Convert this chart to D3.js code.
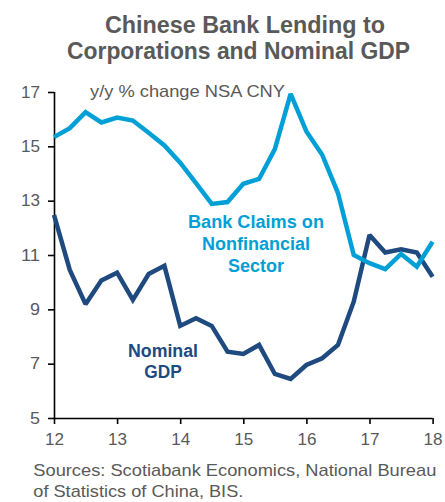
<!DOCTYPE html>
<html>
<head>
<meta charset="utf-8">
<script src="https://cdn.jsdelivr.net/npm/d3@7"></script>
<style>
  html, body { margin: 0; padding: 0; background: #fff; }
  svg { display: block; font-family: "Liberation Sans", Arial, sans-serif; }
</style>
</head>
<body>
<svg id="chart" width="445" height="502"></svg>
<script>
// Quarterly observations, 2012Q1 .. 2018Q1 (x in fractional years, 12 = 2012)
const quarters = d3.range(0, 25).map(i => 12 + i * 0.25);

// Bank claims on nonfinancial sector, y/y %
const bankClaims = [15.34, 15.67, 16.26, 15.88, 16.06, 15.95, 15.5, 15.03, 14.4, 13.65,
  12.88, 12.95, 13.62, 13.8, 14.9, 16.93, 15.55, 14.69, 13.28, 11.0,
  10.7, 10.48, 11.04, 10.57, 11.49];

// Nominal GDP, y/y %
const nominalGDP = [12.48, 10.45, 9.19, 10.06, 10.35, 9.35, 10.3, 10.6, 8.39, 8.67,
  8.39, 7.44, 7.36, 7.69, 6.62, 6.44, 6.95, 7.2, 7.69, 9.28,
  11.74, 11.09, 11.21, 11.09, 10.2];

const xTicks = [12, 13, 14, 15, 16, 17, 18];
const yTicks = [5, 7, 9, 11, 13, 15, 17];

const titleLines = ["Chinese Bank Lending to", "Corporations and Nominal GDP"];
const unitNote = "y/y % change NSA CNY";
const bankLabel = ["Bank Claims on", "Nonfinancial", "Sector"];
const gdpLabel = ["Nominal", "GDP"];
const sourceLines = ["Sources: Scotiabank Economics, National Bureau", "of Statistics of China, BIS."];

const lightBlue = "#00a0d6";
const darkBlue = "#1e4a80";
const gray = "#595959";

const svg = d3.select("#chart");

const x = d3.scaleLinear().domain([12, 18]).range([54, 432.6]);
const y = d3.scaleLinear().domain([5, 17]).range([418, 92]);

// helper: text that fills a given width
function label(t, px, py, opts) {
  const el = svg.append("text")
    .attr("x", px).attr("y", py)
    .attr("text-anchor", opts.anchor || "start")
    .attr("font-size", opts.size)
    .attr("font-weight", opts.bold ? "bold" : "normal")
    .attr("fill", opts.color)
    .text(t);
  if (opts.width) el.attr("textLength", opts.width).attr("lengthAdjust", "spacingAndGlyphs");
  return el;
}

// Title
label(titleLines[0], 245, 33, { anchor: "middle", size: 23, bold: true, color: gray, width: 280 });
label(titleLines[1], 238.5, 59, { anchor: "middle", size: 23, bold: true, color: gray, width: 343 });

// Unit note
label(unitNote, 90, 96.5, { size: 17, color: gray, width: 195 });

// Axes
const yAxis = d3.axisLeft(y).tickValues(yTicks).tickSize(6).tickPadding(8).tickFormat(d3.format("d"));
const xAxis = d3.axisBottom(x).tickValues(xTicks).tickSize(6).tickPadding(9).tickFormat(d3.format("d"));

const gy = svg.append("g").attr("transform", `translate(${x(12)},0)`).call(yAxis);
const gx = svg.append("g").attr("transform", `translate(0,${y(5)})`).call(xAxis);

[gx, gy].forEach(g => {
  g.select(".domain").attr("stroke", "#000").attr("stroke-width", 1.6);
  g.selectAll(".tick line").attr("stroke", "#000").attr("stroke-width", 1.6);
  g.selectAll(".tick text").attr("fill", gray).attr("font-size", 16.5)
    .attr("font-family", "Liberation Sans, Arial, sans-serif")
    .each(function(d) {
      const s = String(d);
      d3.select(this).attr("textLength", s.length === 2 ? 19 : 10)
        .attr("lengthAdjust", "spacingAndGlyphs");
    });
});
gx.select(".domain").attr("d", `M${x(12)},0.5H${x(18)}`);
gy.select(".domain").attr("d", `M0.5,${y(5)}V${y(17)}`);

// Lines
const line = vals => d3.line()
  .x((d, i) => x(quarters[i]))
  .y(d => y(d))(vals);

svg.append("path")
  .attr("d", line(nominalGDP))
  .attr("fill", "none").attr("stroke", darkBlue)
  .attr("stroke-width", 4.5).attr("stroke-linejoin", "miter").attr("stroke-miterlimit", 2);

svg.append("path")
  .attr("d", line(bankClaims))
  .attr("fill", "none").attr("stroke", lightBlue)
  .attr("stroke-width", 4.5).attr("stroke-linejoin", "miter").attr("stroke-miterlimit", 2);

// Series labels
const bankWidths = [136, 108, 56];
const bankBase = [228.3, 250, 272];
bankLabel.forEach((t, i) => {
  label(t, 256, bankBase[i], { anchor: "middle", size: 17.5, bold: true, color: lightBlue, width: bankWidths[i] });
});

const gdpWidths = [70, 37.5];
const gdpBase = [356.7, 378.3];
gdpLabel.forEach((t, i) => {
  label(t, 163, gdpBase[i], { anchor: "middle", size: 17.5, bold: true, color: darkBlue, width: gdpWidths[i] });
});

// Sources
label(sourceLines[0], 33.3, 475.5, { size: 17, color: gray, width: 403 });
label(sourceLines[1], 33.3, 496.5, { size: 17, color: gray, width: 210 });
</script>
</body>
</html>
